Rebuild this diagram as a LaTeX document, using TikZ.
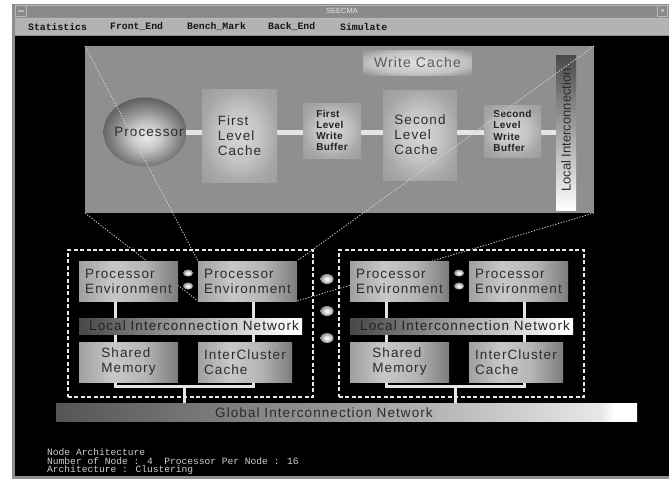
\documentclass[tikz,border=0pt]{standalone}
\usepackage{fontspec}
\setmainfont{Liberation Sans}
\newfontfamily\labfont[LetterSpace=8]{Liberation Sans}
\newfontfamily\buffont[LetterSpace=4]{Liberation Sans}
\newfontfamily\plainsans{Liberation Sans}
\newfontfamily\termfont{Liberation Mono}
\usetikzlibrary{shapes.geometric}

% window colours
\definecolor{winframe}{HTML}{8E8E8E}
\definecolor{titlec}{HTML}{8A8A8A}
\definecolor{titlehi}{HTML}{B8B8B8}
\definecolor{titleink}{HTML}{E6E6E6}
\definecolor{menuc}{HTML}{B3B3B3}
\definecolor{menuink}{HTML}{151515}
\definecolor{infoink}{HTML}{D0D0D0}
% diagram colours
\definecolor{panelgray}{HTML}{8F8F8F}
\definecolor{labelink}{HTML}{2C2C2C}
\definecolor{bufink}{HTML}{222222}
\definecolor{wcink}{HTML}{5C5C5C}
\definecolor{linink}{HTML}{232323}
\definecolor{wirec}{HTML}{E4E4E4}
\definecolor{projc}{HTML}{DADADA}
\definecolor{framec}{HTML}{E8E8E8}
% shading stops
\definecolor{mtA}{HTML}{A0A0A0}
\definecolor{mtB}{HTML}{C8C8C8}
\definecolor{mtBB}{HTML}{B6B6B6}
\definecolor{mtC}{HTML}{7C7C7C}
\definecolor{lbA}{HTML}{4A4A4A}
\definecolor{gbA}{HTML}{555555}
\definecolor{gbB}{HTML}{9A9A9A}
\definecolor{gbC}{HTML}{E8E8E8}
\definecolor{liA}{HTML}{4A4A4A}
\definecolor{glA}{HTML}{D6D6D6}
\definecolor{glB}{HTML}{C4C4C4}
\definecolor{glC}{HTML}{A8A8A8}
\definecolor{glD}{HTML}{9C9C9C}
\definecolor{wcA}{HTML}{E2E2E2}
\definecolor{wcB}{HTML}{C4C4C4}
\definecolor{pbA}{HTML}{EAEAEA}
\definecolor{pbB}{HTML}{C8C8C8}
\definecolor{pbC}{HTML}{858585}
\definecolor{pbD}{HTML}{5A5A5A}
\definecolor{prA}{HTML}{E0E0E0}
\definecolor{prB}{HTML}{8A8A8A}

\pgfdeclarehorizontalshading{metal}{100bp}{color(0bp)=(mtA); color(25bp)=(mtA); color(42bp)=(mtB); color(58bp)=(mtBB); color(75bp)=(mtC); color(100bp)=(mtC)}
\pgfdeclarehorizontalshading{linbar}{100bp}{color(0bp)=(lbA); color(26bp)=(lbA); color(73bp)=(white); color(100bp)=(white)}
\pgfdeclarehorizontalshading{ginbar}{100bp}{color(0bp)=(gbA); color(25bp)=(gbA); color(50bp)=(gbB); color(72bp)=(gbC); color(73bp)=(white); color(100bp)=(white)}
\pgfdeclareverticalshading{libar}{100bp}{color(0bp)=(white); color(25bp)=(white); color(75bp)=(liA); color(100bp)=(liA)}
\pgfdeclareradialshading{glow}{\pgfpointorigin}{color(0bp)=(glA); color(14bp)=(glB); color(25bp)=(glC); color(36bp)=(glD); color(50bp)=(glD)}
\pgfdeclareradialshading{wcglow}{\pgfpointorigin}{color(0bp)=(wcA); color(22bp)=(wcB); color(35bp)=(panelgray); color(50bp)=(panelgray)}
\pgfdeclareradialshading{procball}{\pgfpoint{1bp}{-4bp}}{color(0bp)=(pbA); color(9bp)=(pbB); color(20bp)=(pbC); color(28bp)=(pbD); color(50bp)=(pbD)}
\pgfdeclareradialshading{pearl}{\pgfpointorigin}{color(0bp)=(white); color(10bp)=(prA); color(25bp)=(prB); color(50bp)=(prB)}

\pgfdeclarelayer{winlayer}
\pgfdeclarelayer{pwire}
\pgfdeclarelayer{pbox}
\pgfdeclarelayer{mid}
\pgfsetlayers{winlayer,pwire,pbox,mid,main}

\tikzset{
  plainbox/.style={rectangle, inner sep=0pt, outer sep=0pt, draw=none},
  lab/.style={font=\labfont\fontsize{13.5}{15}\selectfont, text=labelink, align=left, inner sep=0pt},
  buflab/.style={font=\buffont\fontsize{10}{11.2}\selectfont\bfseries, text=bufink, align=left, inner sep=0pt},
  menuitem/.style={font=\termfont\fontsize{9.8}{10}\selectfont\bfseries, text=menuink, anchor=west, inner sep=0pt},
  infoline/.style={font=\termfont\fontsize{9.6}{10}\selectfont, text=infoink, anchor=base west, inner sep=0pt},
  wire/.style={draw=wirec, line width=3pt},
  pwireline/.style={draw=wirec, line width=5pt},
  proj/.style={draw=projc, line width=0.8pt, dash pattern=on 1.2pt off 1.6pt},
  dashframe/.style={draw=framec, line width=1.1pt, dash pattern=on 4pt off 2.4pt},
  pearldot/.style={ellipse, inner sep=0pt, outer sep=0pt, shading=pearl}
}

% rectangle node from its two corners: [options]{name}{x1}{y1}{x2}{y2}{text}
\newcommand\rbox[7][]{\node[plainbox,#1,minimum width={(#5)-(#3)},minimum height={(#6)-(#4)}] (#2) at ({((#3)+(#5))/2},{((#4)+(#6))/2}) {#7};}

\begin{document}
\begin{tikzpicture}[x=1pt,y=-1pt]
\useasboundingbox (0,0) rectangle (669,479);

% ---------- application window ----------
\begin{pgfonlayer}{winlayer}
  \fill[white] (0,0) rectangle (669,479);
  \fill[winframe] (12,4) rectangle (669,479);
  \fill[black] (15,36) rectangle (669,476);
  \fill[titlec] (15,5) rectangle (669,17);
  \draw[titlehi, line width=0.6pt] (15,5.3) -- (669,5.3);
  \node[plainbox, minimum width=11, minimum height=11, fill=titlec, draw=titlehi, line width=0.6pt] (btnmin) at (20.5,11) {\color{titlehi}\rule{6pt}{1.4pt}};
  \node[plainbox, minimum width=10, minimum height=11, fill=titlec, draw=titlehi, line width=0.6pt] (btnmax) at (662,11) {\color{titlehi}\rule{3pt}{3pt}};
  \node[font=\plainsans\fontsize{7.5}{8}\selectfont, text=titleink, inner sep=0pt] (wintitle) at (342,11) {SEECMA};
  \fill[menuc] (15,18) rectangle (669,35);
  \draw[titlehi, line width=0.6pt] (15,18.3) -- (669,18.3);
  \node[menuitem] (mstat) at (28,26.5) {Statistics};
  \node[menuitem] (mfront) at (110,26.5) {Front\_End};
  \node[menuitem] (mbench) at (187,26.5) {Bench\_Mark};
  \node[menuitem] (mback) at (268,26.5) {Back\_End};
  \node[menuitem] (msim) at (340,26.5) {Simulate};

  % node architecture panel
  \rbox[fill=panelgray]{panel}{85}{46}{594}{213}{}
\end{pgfonlayer}

% ---------- processor node internals ----------
\begin{pgfonlayer}{pbox}
  \rbox[shading=wcglow, lab, font=\labfont\fontsize{14}{15}\selectfont, text=wcink]{wcache}{363}{50}{472}{75}{Write Cache}
  \node[ellipse, inner sep=0pt, outer sep=0pt, minimum width=83, minimum height=69, shading=procball] (proc) at (145,132) {};
  \node[lab] (proctext) at (149,132) {Processor};
  \rbox[shading=glow, lab]{flc}{202}{89}{277}{182}{First\\Level\\Cache}
  \rbox[shading=glow, buflab]{flwb}{303}{103}{361}{158}{First\\Level\\Write\\Buffer}
  \rbox[shading=glow, lab]{slc}{383}{90}{457}{180}{Second\\Level\\Cache}
  \rbox[shading=glow, buflab]{slwb}{484}{105}{541}{157}{Second\\Level\\Write\\Buffer}
  \rbox[shading=libar]{libar}{556}{55}{576}{210}{}
  \node[lab, font=\plainsans\fontsize{13}{14}\selectfont, rotate=90] (litext) at (566,130) {Local Interconnection};
\end{pgfonlayer}
\begin{pgfonlayer}{pwire}
  \draw[pwireline] (proc.center) -- (flc.west |- proc.center);
  \draw[pwireline] (flc.east |- proc.center) -- (flwb.west |- proc.center);
  \draw[pwireline] (flwb.east |- proc.center) -- (slc.west |- proc.center);
  \draw[pwireline] (slc.east |- proc.center) -- (slwb.west |- proc.center);
  \draw[pwireline] (slwb.east |- proc.center) -- (libar.west |- proc.center);
\end{pgfonlayer}

% ---------- global network ----------
\rbox[shading=ginbar]{gin}{56}{403}{637}{421}{}
\node[lab, anchor=west, text=labelink] (gintext) at (215,412.5) {Global Interconnection Network};

% ---------- two clusters ----------
\foreach \cl/\dx in {L/0,R/271}{
  \rbox[dashframe]{\cl frame}{68+\dx}{250}{313+\dx}{397}{}
  \rbox[shading=metal, lab]{\cl pe1}{79+\dx}{261}{178+\dx}{301}{Processor\\Environment}
  \rbox[shading=metal, lab]{\cl pe2}{198+\dx}{261}{297+\dx}{301}{Processor\\Environment}
  \rbox[shading=linbar]{\cl lin}{79+\dx}{318}{302+\dx}{334}{}
  \node[lab, anchor=west, text=linink] (\cl lintext) at (89+\dx,326) {Local Interconnection Network};
  \rbox[shading=metal, lab]{\cl sm}{79+\dx}{342}{178+\dx}{382}{Shared\\Memory}
  \rbox[shading=metal, lab]{\cl icc}{198+\dx}{342}{292+\dx}{382}{InterCluster\\Cache}
  \node[pearldot, minimum width=10, minimum height=7] (\cl dota) at (188+\dx,273) {};
  \node[pearldot, minimum width=10, minimum height=7] (\cl dotb) at (188+\dx,286) {};
  \coordinate (\cl xa) at (115+\dx,0);
  \coordinate (\cl xb) at (253+\dx,0);
  \coordinate (\cl bus) at (184+\dx,386);
  \begin{pgfonlayer}{mid}
    \draw[wire] (\cl pe1.south -| \cl xa) -- (\cl sm.north -| \cl xa);
    \draw[wire] (\cl pe2.south -| \cl xb) -- (\cl icc.north -| \cl xb);
    \draw[wire] (\cl sm.south -| \cl xa) |- (\cl bus) -| (\cl icc.south -| \cl xb);
    \draw[wire] (\cl bus) -- (\cl bus |- gin.north);
  \end{pgfonlayer}
}

% further clusters, elided
\node[pearldot, minimum width=13, minimum height=10] (more1) at (327,279) {};
\node[pearldot, minimum width=13, minimum height=10] (more2) at (327,311) {};
\node[pearldot, minimum width=13, minimum height=10] (more3) at (327,338) {};

% zoom lines from the panel to the expanded processor environment
\begin{pgfonlayer}{mid}
  \draw[proj] (panel.north west) -- (Lpe2.north west);
  \draw[proj] (panel.south west) -- (Lpe2.south west);
  \draw[proj] (panel.north east) -- (Lpe2.north east);
  \draw[proj] (panel.south east) -- (Lpe2.south east);
\end{pgfonlayer}

% ---------- status lines ----------
\node[infoline] (info1) at (47,455.5) {Node Architecture};
\node[infoline] (info2) at (47,464) {Number of Node : 4\ \ Processor Per Node : 16};
\node[infoline] (info3) at (47,472.5) {Architecture : Clustering};
\end{tikzpicture}
\end{document}
